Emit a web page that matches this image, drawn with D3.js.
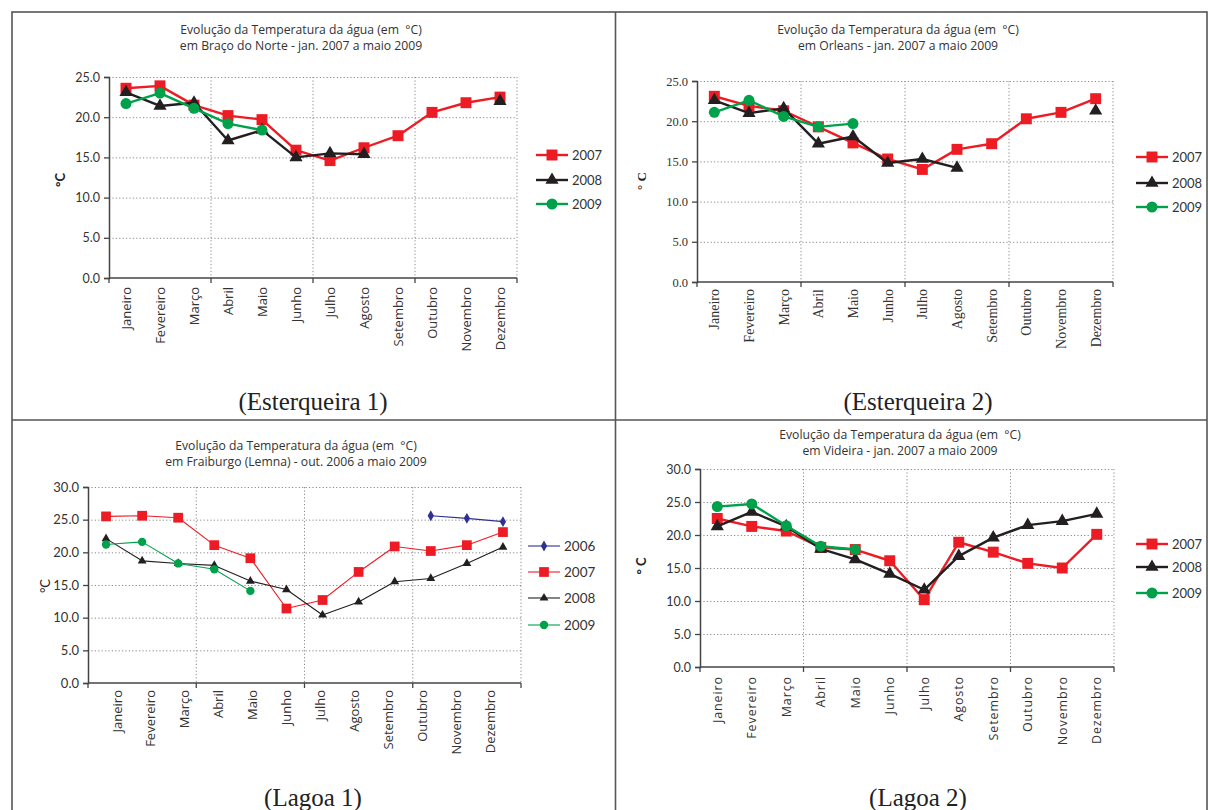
<!DOCTYPE html>
<html>
<head>
<meta charset="utf-8">
<script src="https://cdn.jsdelivr.net/npm/d3@7"></script>
<style>
  body { margin: 0; background: #fff; }
  svg { display: block; }
</style>
</head>
<body>
<svg id="chart" width="1208" height="810"></svg>
<script>
// Months on the x axis
const months = ["Janeiro", "Fevereiro", "Março", "Abril", "Maio", "Junho",
                "Julho", "Agosto", "Setembro", "Outubro", "Novembro", "Dezembro"];

// Tick values
const ticks25 = [0, 5, 10, 15, 20, 25];
const ticks30 = [0, 5, 10, 15, 20, 25, 30];

// Esterqueira 1 – Braço do Norte (°C)
const bracoNorte2007 = [23.6, 23.9, 21.5, 20.2, 19.7, 15.9, 14.6, 16.2, 17.7, 20.6, 21.8, 22.5];
const bracoNorte2008 = [23.1, 21.4, 21.8, 17.1, 18.4, 15.0, 15.5, 15.4, null, null, null, 22.0];
const bracoNorte2009 = [21.7, 23.0, 21.1, 19.2, 18.4, null, null, null, null, null, null, null];

// Esterqueira 2 – Orleans (°C)
const orleans2007 = [23.1, 21.9, 21.3, 19.3, 17.3, 15.3, 14.0, 16.5, 17.2, 20.3, 21.1, 22.8];
const orleans2008 = [22.6, 21.0, 21.6, 17.2, 18.1, 14.8, 15.3, 14.2, null, null, null, 21.3];
const orleans2009 = [21.1, 22.6, 20.6, 19.3, 19.7, null, null, null, null, null, null, null];

// Lagoa 1 – Fraiburgo (Lemna) (°C)
const fraiburgo2006 = [null, null, null, null, null, null, null, null, null, 25.6, 25.2, 24.7];
const fraiburgo2007 = [25.5, 25.6, 25.3, 21.1, 19.1, 11.4, 12.7, 17.0, 20.9, 20.2, 21.1, 23.1];
const fraiburgo2008 = [22.1, 18.7, 18.3, 18.0, 15.6, 14.3, 10.4, 12.4, 15.5, 16.0, 18.3, 20.8];
const fraiburgo2009 = [21.2, 21.6, 18.3, 17.4, 14.1, null, null, null, null, null, null, null];

// Lagoa 2 – Videira (°C)
const videira2007 = [22.5, 21.3, 20.6, 18.1, 17.8, 16.1, 10.2, 18.9, 17.4, 15.7, 15.0, 20.1];
const videira2008 = [21.3, 23.5, 21.3, 17.9, 16.3, 14.1, 11.7, 16.8, 19.6, 21.5, 22.1, 23.2];
const videira2009 = [24.3, 24.7, 21.4, 18.3, 17.8, null, null, null, null, null, null, null];

const RED = "#ed1c24", BLACK = "#231f20", GREEN = "#00a14b", NAVY = "#2e3192";
const SANS = "Lato, 'Open Sans', sans-serif";
const WIDE_SANS = "'Open Sans', Lato, sans-serif";
const SERIF = "'Liberation Serif', 'DejaVu Serif', serif";

const svg = d3.select("#chart");

// Outer frame and quadrant dividers
const frame = svg.append("g").attr("fill", "none").attr("stroke", "#555").attr("stroke-width", 1.6);
frame.append("rect").attr("x", 12).attr("y", 12).attr("width", 1195).attr("height", 810);
frame.append("line").attr("x1", 615.5).attr("x2", 615.5).attr("y1", 12).attr("y2", 810);
frame.append("line").attr("x1", 12).attr("x2", 1207).attr("y1", 420).attr("y2", 420);

const heavy = { lineWidth: 2.4, square: 120, triangle: 75, circle: 95, diamond: 40 };
const light = { lineWidth: 1.1, square: 95, triangle: 34, circle: 55, diamond: 34 };

const panels = [
  {
    title: ["Evolução da Temperatura da água (em  °C)", "em Braço do Norte - jan. 2007 a maio 2009"],
    titleX: 301, titleY: 34,
    caption: "(Esterqueira 1)", captionX: 313, captionY: 410,
    left: 109, right: 517, top: 77, bottom: 278, yMax: 25, yTicks: ticks25,
    tickFont: SANS, tickSize: 12.5, monthFont: WIDE_SANS, monthSize: 13, monthSpacing: 0, monthGap: 9,
    yLabel: "°C", yLabelX: 60, yLabelY: 180, yLabelWeight: "bold", yLabelFont: SANS,
    style: heavy,
    legendX: 536, legendY: [155, 180, 204], legendSize: 13,
    series: [
      { name: "2007", values: bracoNorte2007, color: RED, shape: d3.symbolSquare, key: "square" },
      { name: "2008", values: bracoNorte2008, color: BLACK, shape: d3.symbolTriangle, key: "triangle" },
      { name: "2009", values: bracoNorte2009, color: GREEN, shape: d3.symbolCircle, key: "circle" }
    ]
  },
  {
    title: ["Evolução da Temperatura da água (em  °C)", "em Orleans - jan. 2007 a maio 2009"],
    titleX: 898, titleY: 34,
    caption: "(Esterqueira 2)", captionX: 918, captionY: 410,
    left: 697, right: 1113, top: 81, bottom: 282, yMax: 25, yTicks: ticks25,
    tickFont: SERIF, tickSize: 12.5, monthFont: SERIF, monthSize: 14, monthSpacing: 0, monthGap: 7,
    yLabel: "° C", yLabelX: 641, yLabelY: 181, yLabelWeight: "bold", yLabelFont: SERIF,
    style: heavy,
    legendX: 1136, legendY: [157, 183, 207], legendSize: 13,
    series: [
      { name: "2007", values: orleans2007, color: RED, shape: d3.symbolSquare, key: "square" },
      { name: "2008", values: orleans2008, color: BLACK, shape: d3.symbolTriangle, key: "triangle" },
      { name: "2009", values: orleans2009, color: GREEN, shape: d3.symbolCircle, key: "circle" }
    ]
  },
  {
    title: ["Evolução da Temperatura da água (em  °C)", "em Fraiburgo (Lemna) - out. 2006 a maio 2009"],
    titleX: 296, titleY: 450,
    caption: "(Lagoa 1)", captionX: 313, captionY: 806,
    left: 88, right: 521, top: 487, bottom: 683, yMax: 30, yTicks: ticks30,
    tickFont: SANS, tickSize: 13, monthFont: WIDE_SANS, monthSize: 13, monthSpacing: 0, monthGap: 7,
    monthRange: [117, 490],
    yLabel: "°C", yLabelX: 45, yLabelY: 586, yLabelWeight: "normal", yLabelFont: SANS,
    style: light,
    legendX: 528, legendY: [546, 572, 598, 625], legendSize: 13.5,
    series: [
      { name: "2006", values: fraiburgo2006, color: NAVY, shape: d3.symbolDiamond, key: "diamond" },
      { name: "2007", values: fraiburgo2007, color: RED, shape: d3.symbolSquare, key: "square" },
      { name: "2008", values: fraiburgo2008, color: BLACK, shape: d3.symbolTriangle, key: "triangle" },
      { name: "2009", values: fraiburgo2009, color: GREEN, shape: d3.symbolCircle, key: "circle" }
    ]
  },
  {
    title: ["Evolução da Temperatura da água (em  °C)", "em Videira - jan. 2007 a maio 2009"],
    titleX: 900, titleY: 439,
    caption: "(Lagoa 2)", captionX: 918, captionY: 806,
    left: 700, right: 1114, top: 469, bottom: 667, yMax: 30, yTicks: ticks30,
    tickFont: SANS, tickSize: 12.5, monthFont: WIDE_SANS, monthSize: 12.5, monthSpacing: 0.9, monthGap: 9,
    yLabel: "° C", yLabelX: 641, yLabelY: 566, yLabelWeight: "bold", yLabelFont: SANS,
    style: heavy,
    legendX: 1136, legendY: [544, 567, 593], legendSize: 13,
    series: [
      { name: "2007", values: videira2007, color: RED, shape: d3.symbolSquare, key: "square" },
      { name: "2008", values: videira2008, color: BLACK, shape: d3.symbolTriangle, key: "triangle" },
      { name: "2009", values: videira2009, color: GREEN, shape: d3.symbolCircle, key: "circle" }
    ]
  }
];

function drawPanel(p) {
  const g = svg.append("g");
  const x = d3.scaleBand().domain(months).range([p.left, p.right]).paddingInner(0).paddingOuter(0);
  const cx = m => x(m) + x.bandwidth() / 2;
  const y = d3.scaleLinear().domain([0, p.yMax]).range([p.bottom, p.top]);
  const labelX = p.monthRange
    ? d3.scalePoint().domain(months).range(p.monthRange)
    : cx;

  // Horizontal dotted grid
  g.append("g")
    .attr("transform", `translate(${p.left},0)`)
    .call(d3.axisLeft(y).tickValues(p.yTicks.filter(t => t > 0)).tickSize(-(p.right - p.left)).tickFormat(""))
    .call(s => {
      s.select(".domain").remove();
      s.selectAll("line").attr("stroke", "#8a8a8a").attr("stroke-width", 1).attr("stroke-dasharray", "1.2,2.2");
    });

  // Vertical dotted grid at each quarter boundary
  const quarterEdges = [months[3], months[6], months[9]].map(m => x(m)).concat([x.range()[1]]);
  g.append("g").selectAll("line").data(quarterEdges).join("line")
    .attr("x1", d => d).attr("x2", d => d)
    .attr("y1", y(p.yMax)).attr("y2", y(0))
    .attr("stroke", "#8a8a8a").attr("stroke-width", 1).attr("stroke-dasharray", "1.2,2.2");

  // Y axis
  g.append("g")
    .attr("transform", `translate(${p.left},0)`)
    .call(d3.axisLeft(y).tickValues(p.yTicks).tickFormat(d3.format(".1f")).tickSize(5).tickPadding(4))
    .call(s => {
      s.select(".domain").attr("stroke", "#444").attr("stroke-width", 1.5);
      s.selectAll("line").attr("stroke", "#444").attr("stroke-width", 1.3);
      s.selectAll("text").attr("font-family", p.tickFont).attr("font-size", p.tickSize).attr("fill", "#333");
    });

  // X axis baseline with tick marks at quarter boundaries
  g.append("line")
    .attr("x1", x.range()[0]).attr("x2", x.range()[1])
    .attr("y1", y(0)).attr("y2", y(0))
    .attr("stroke", "#444").attr("stroke-width", 1.5);
  g.append("g").selectAll("line").data([x.range()[0]].concat(quarterEdges)).join("line")
    .attr("x1", d => d).attr("x2", d => d)
    .attr("y1", y(0)).attr("y2", y(0) + 5)
    .attr("stroke", "#444").attr("stroke-width", 1.3);

  // Month names, rotated
  g.append("g").selectAll("text").data(months).join("text")
    .attr("transform", m => `translate(${labelX(m)},${y(0) + p.monthGap}) rotate(-90)`)
    .attr("text-anchor", "end")
    .attr("dy", "0.35em")
    .attr("font-family", p.monthFont)
    .attr("font-size", p.monthSize)
    .attr("letter-spacing", p.monthSpacing)
    .attr("fill", "#333")
    .text(m => m);

  // Series lines and markers
  const line = d3.line()
    .defined(d => d.v != null)
    .x(d => cx(d.m))
    .y(d => y(d.v));

  p.series.forEach(s => {
    const pts = months.map((m, i) => ({ m, v: s.values[i] }));
    g.append("path")
      .datum(pts)
      .attr("fill", "none")
      .attr("stroke", s.color)
      .attr("stroke-width", p.style.lineWidth)
      .attr("stroke-linejoin", "round")
      .attr("d", line);
    g.append("g").selectAll("path").data(pts.filter(d => d.v != null)).join("path")
      .attr("transform", d => `translate(${cx(d.m)},${y(d.v)})`)
      .attr("d", d3.symbol(s.shape, p.style[s.key]))
      .attr("fill", s.color);
  });

  // Legend
  const lg = g.append("g");
  p.series.forEach((s, i) => {
    const ly = p.legendY[i];
    lg.append("line")
      .attr("x1", p.legendX).attr("x2", p.legendX + 32)
      .attr("y1", ly).attr("y2", ly)
      .attr("stroke", s.color).attr("stroke-width", p.style.lineWidth);
    lg.append("path")
      .attr("transform", `translate(${p.legendX + 16},${ly})`)
      .attr("d", d3.symbol(s.shape, p.style[s.key]))
      .attr("fill", s.color);
    lg.append("text")
      .attr("x", p.legendX + 36).attr("y", ly).attr("dy", "0.35em")
      .attr("font-family", SANS).attr("font-size", p.legendSize).attr("fill", "#333")
      .text(s.name);
  });

  // Title (two lines)
  g.append("text")
    .attr("x", p.titleX).attr("y", p.titleY)
    .attr("text-anchor", "middle")
    .attr("font-family", WIDE_SANS).attr("font-size", 12.2).attr("fill", "#333")
    .style("white-space", "pre")
    .selectAll("tspan").data(p.title).join("tspan")
    .attr("x", p.titleX).attr("dy", (d, i) => i === 0 ? 0 : 16)
    .text(d => d);

  // Y axis unit label
  g.append("text")
    .attr("transform", `translate(${p.yLabelX},${p.yLabelY}) rotate(-90)`)
    .attr("text-anchor", "middle")
    .attr("dy", "0.35em")
    .attr("font-family", p.yLabelFont).attr("font-size", 13)
    .attr("font-weight", p.yLabelWeight).attr("fill", "#222")
    .style("white-space", "pre")
    .text(p.yLabel);

  // Caption under the panel
  g.append("text")
    .attr("x", p.captionX).attr("y", p.captionY)
    .attr("text-anchor", "middle")
    .attr("font-family", SERIF).attr("font-size", 25).attr("fill", "#222")
    .text(p.caption);
}

panels.forEach(drawPanel);
</script>
</body>
</html>
